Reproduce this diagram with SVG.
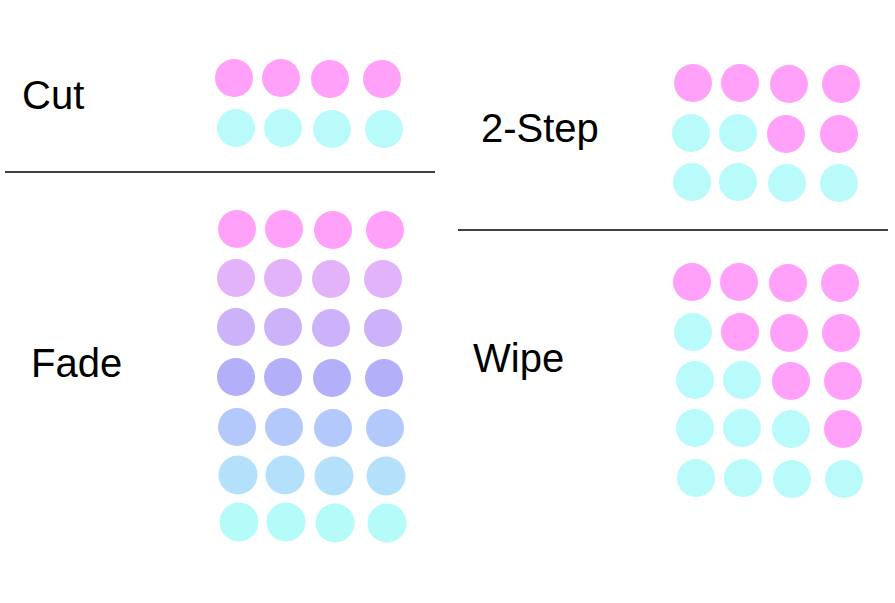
<svg xmlns="http://www.w3.org/2000/svg" width="895" height="603" viewBox="0 0 895 603">
<style>
text{font-family:"Liberation Sans",Arial,sans-serif;font-size:40px;fill:#000}
.p{fill:#FFA0F9}.c{fill:#B9FBFA}
.f2{fill:#E3B3F9}.f3{fill:#CCB3F9}.f4{fill:#B3B0F9}.f5{fill:#B3C8FB}.f6{fill:#B4E0FB}.f7{fill:#B4FBFA}
line{stroke:#000;stroke-width:1.5}
</style>
<rect width="895" height="603" fill="#fff"/>
<g id="dividers">
<line x1="5" y1="172" x2="435" y2="172"/>
<line x1="458" y1="230" x2="888" y2="230"/>
</g>
<g id="cut">
<text x="22" y="109">Cut</text>
<circle class="p" cx="234" cy="78" r="19"/><circle class="p" cx="281" cy="78" r="19"/><circle class="p" cx="330" cy="79" r="19"/><circle class="p" cx="382" cy="79" r="19"/>
<circle class="c" cx="236" cy="128" r="19"/><circle class="c" cx="283" cy="128" r="19"/><circle class="c" cx="332" cy="129" r="19"/><circle class="c" cx="384" cy="129" r="19"/>
</g>
<g id="fade">
<text x="31" y="377">Fade</text>
<circle class="p" cx="237" cy="229" r="19"/><circle class="p" cx="284" cy="229" r="19"/><circle class="p" cx="333" cy="230" r="19"/><circle class="p" cx="385" cy="230" r="19"/>
<circle class="f2" cx="236" cy="278" r="19"/><circle class="f2" cx="283" cy="278" r="19"/><circle class="f2" cx="331" cy="279" r="19"/><circle class="f2" cx="383" cy="279" r="19"/>
<circle class="f3" cx="236" cy="327" r="19"/><circle class="f3" cx="283" cy="327" r="19"/><circle class="f3" cx="331" cy="328" r="19"/><circle class="f3" cx="383" cy="328" r="19"/>
<circle class="f4" cx="236" cy="377" r="19"/><circle class="f4" cx="283" cy="377" r="19"/><circle class="f4" cx="332" cy="378" r="19"/><circle class="f4" cx="384" cy="378" r="19"/>
<circle class="f5" cx="237" cy="427" r="19"/><circle class="f5" cx="284" cy="427" r="19"/><circle class="f5" cx="333" cy="428" r="19"/><circle class="f5" cx="385" cy="428" r="19"/>
<circle class="f6" cx="238" cy="475" r="19.5"/><circle class="f6" cx="285" cy="475" r="19.5"/><circle class="f6" cx="334" cy="476" r="19.5"/><circle class="f6" cx="386" cy="476" r="19.5"/>
<circle class="f7" cx="239" cy="522" r="19.5"/><circle class="f7" cx="286" cy="522" r="19.5"/><circle class="f7" cx="335" cy="523" r="19.5"/><circle class="f7" cx="387" cy="523" r="19.5"/>
</g>
<g id="two-step">
<text x="481" y="142">2-Step</text>
<circle class="p" cx="693" cy="83" r="19"/><circle class="p" cx="740" cy="83" r="19"/><circle class="p" cx="789" cy="84" r="19"/><circle class="p" cx="841" cy="84" r="19"/>
<circle class="c" cx="691" cy="133" r="19"/><circle class="c" cx="738" cy="133" r="19"/><circle class="p" cx="786" cy="134" r="19"/><circle class="p" cx="839" cy="134" r="19"/>
<circle class="c" cx="692" cy="182" r="19"/><circle class="c" cx="738" cy="182" r="19"/><circle class="c" cx="787" cy="183" r="19"/><circle class="c" cx="839" cy="183" r="19"/>
</g>
<g id="wipe">
<text x="473" y="372">Wipe</text>
<circle class="p" cx="692" cy="282" r="19"/><circle class="p" cx="739" cy="282" r="19"/><circle class="p" cx="788" cy="283" r="19"/><circle class="p" cx="840" cy="283" r="19"/>
<circle class="c" cx="693" cy="332" r="19"/><circle class="p" cx="740" cy="332" r="19"/><circle class="p" cx="789" cy="333" r="19"/><circle class="p" cx="841" cy="333" r="19"/>
<circle class="c" cx="695" cy="380" r="19"/><circle class="c" cx="742" cy="380" r="19"/><circle class="p" cx="791" cy="381" r="19"/><circle class="p" cx="843" cy="381" r="19"/>
<circle class="c" cx="695" cy="428" r="19"/><circle class="c" cx="742" cy="428" r="19"/><circle class="c" cx="791" cy="429" r="19"/><circle class="p" cx="843" cy="429" r="19"/>
<circle class="c" cx="696" cy="478" r="19"/><circle class="c" cx="743" cy="478" r="19"/><circle class="c" cx="792" cy="479" r="19"/><circle class="c" cx="844" cy="479" r="19"/>
</g>
</svg>
